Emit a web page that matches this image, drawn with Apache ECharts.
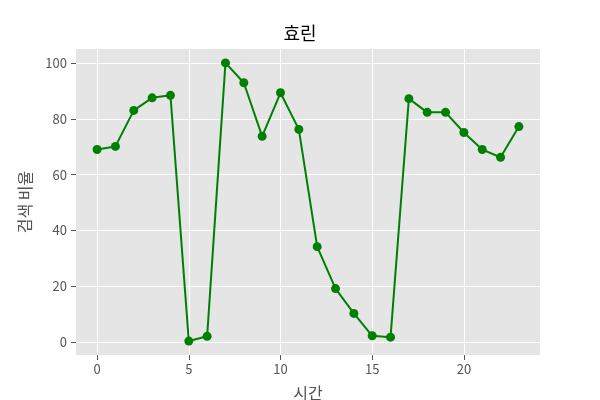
<!DOCTYPE html>
<html>
<head>
<meta charset="utf-8">
<script src="https://cdn.jsdelivr.net/npm/echarts@6/dist/echarts.min.js"></script>
<style>html,body{margin:0;padding:0;background:#fff}#c{width:600px;height:400px}</style>
</head>
<body>
<div id="c"></div>
<script>
const hours = [0,1,2,3,4,5,6,7,8,9,10,11,12,13,14,15,16,17,18,19,20,21,22,23];
const ratio = [69.0,70.1,83.0,87.5,88.4,0.4,2.1,100,92.9,73.7,89.3,76.2,34.2,19.2,10.3,2.3,1.8,87.2,82.3,82.3,75.1,69.0,66.2,77.2];
const xTicks = [0,5,10,15,20];
const yTicks = [0,20,40,60,80,100];
const titleText = '효린';
const xName = '시간';
const yName = '검색 비율';

const font = '"Noto Sans CJK KR", "DejaVu Sans", sans-serif';
const chart = echarts.init(document.getElementById('c'), null, {renderer: 'canvas'});
chart.setOption({
  backgroundColor: '#ffffff',
  animation: false,
  title: {text: titleText, left: 'center', top: 19, textStyle: {fontFamily: font, fontSize: 18, fontWeight: 'normal', color: '#000'}},
  grid: {left: 76, right: 60, top: 49, bottom: 45, show: true, backgroundColor: '#e5e5e5', borderWidth: 0, containLabel: false, outerBoundsMode: 'none'},
  xAxis: {
    type: 'value', min: -1.15, max: 24.15,
    name: xName, nameLocation: 'middle', nameGap: 30,
    nameTextStyle: {fontFamily: font, fontSize: 16, color: '#555'},
    axisLine: {show: false, onZero: false},
    axisTick: {show: true, length: 5, lineStyle: {color: '#555'}, customValues: xTicks},
    axisLabel: {fontFamily: font, fontSize: 13, color: '#555', margin: 8, customValues: xTicks},
    splitLine: {show: true, lineStyle: {color: '#ffffff', width: 1}}
  },
  yAxis: {
    type: 'value', min: -4.58, max: 104.98,
    name: yName, nameLocation: 'middle', nameGap: 43, nameRotate: 90,
    nameTextStyle: {fontFamily: font, fontSize: 16, color: '#555'},
    axisLine: {show: false, onZero: false},
    axisTick: {show: true, length: 5, lineStyle: {color: '#555'}, customValues: yTicks},
    axisLabel: {fontFamily: font, fontSize: 13, color: '#555', margin: 9, customValues: yTicks},
    splitLine: {show: true, lineStyle: {color: '#ffffff', width: 1}}
  },
  series: [{
    type: 'line',
    data: hours.map((h, i) => [h, ratio[i]]),
    symbol: 'circle', symbolSize: 9,
    lineStyle: {color: '#008000', width: 2},
    itemStyle: {color: '#008000'},
    z: 3
  }]
});
</script>
</body>
</html>
